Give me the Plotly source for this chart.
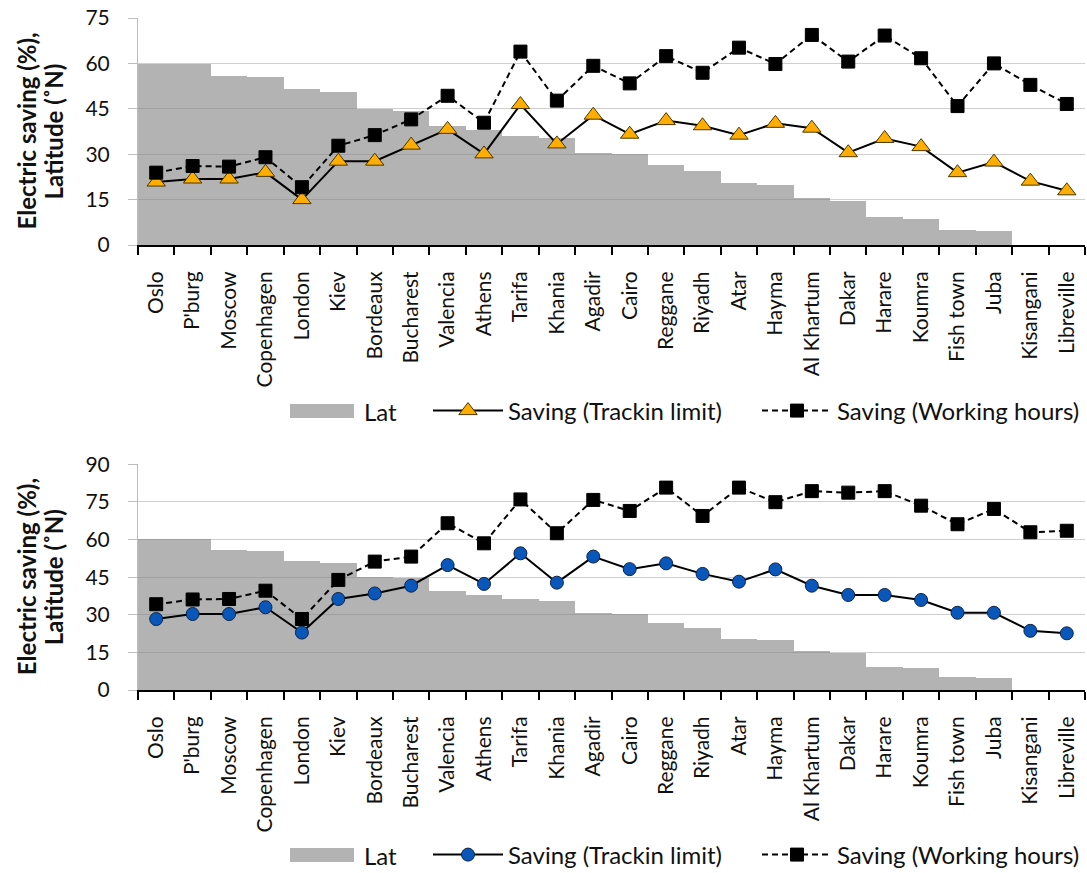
import plotly.graph_objects as go

# Cities ordered from north to south
cities = ["Oslo", "P'burg", "Moscow", "Copenhagen", "London", "Kiev", "Bordeaux",
          "Bucharest", "Valencia", "Athens", "Tarifa", "Khania", "Agadir", "Cairo",
          "Reggane", "Riyadh", "Atar", "Hayma", "Al Khartum", "Dakar", "Harare",
          "Koumra", "Fish town", "Juba", "Kisangani", "Libreville"]

# Latitude (deg N), shown as the grey stepped area in both panels
latitude = [59.9, 59.9, 55.7, 55.5, 51.5, 50.4, 44.8, 44.4, 39.4, 37.9, 36.0, 35.5, 30.4,
            30.0, 26.5, 24.5, 20.4, 19.9, 15.5, 14.7, 9.1, 8.6, 5.0, 4.7, 0.0, 0.0]

# Upper panel: electric saving (%)
track_top = [20.8, 21.8, 21.8, 24.0, 15.0, 27.7, 27.7, 33.0, 38.2, 30.1, 46.4, 33.4, 42.9,
             36.6, 41.1, 39.4, 36.3, 40.2, 38.6, 30.5, 35.2, 32.5, 23.9, 27.4, 21.1, 17.9]
work_top = [23.9, 26.1, 25.9, 29.0, 19.1, 32.8, 36.3, 41.5, 49.3, 40.4, 63.9, 47.7, 59.2,
            53.4, 62.4, 56.9, 65.2, 59.8, 69.4, 60.6, 69.2, 61.7, 45.9, 60.0, 52.9, 46.6]

# Lower panel: electric saving (%)
track_bottom = [28.3, 30.3, 30.3, 33.0, 22.9, 36.3, 38.5, 41.6, 49.8, 42.3, 54.5, 42.8, 53.2,
                48.2, 50.5, 46.3, 43.2, 48.1, 41.6, 37.9, 37.9, 35.9, 30.8, 30.8, 23.6, 22.6]
work_bottom = [34.2, 36.1, 36.3, 39.6, 28.3, 43.9, 51.2, 53.2, 66.5, 58.5, 76.0, 62.5, 75.8,
               71.4, 80.7, 69.4, 80.7, 74.9, 79.3, 78.7, 79.3, 73.5, 66.1, 72.2, 62.9, 63.5]

y_max_top = 75
y_max_bottom = 90
y_step = 15

W, H = 1087, 873
FONT = "Lato"
TEXT = "#111111"


def fx(p):
    return p / W


def fy(p):
    return 1 - p / H


panels = [
    dict(xa="x", ya="y", track=track_top, work=work_top, ymax=y_max_top,
         symbol="triangle-up", fill="#FFAE00", edge="#4a3800", size=16,
         legends=("legend", "legend2"), top=18, bottom=245, leg_y=411),
    dict(xa="x2", ya="y2", track=track_bottom, work=work_bottom, ymax=y_max_bottom,
         symbol="circle", fill="#0A57BC", edge="#0d2447", size=13,
         legends=("legend3", "legend4"), top=464.3, bottom=690, leg_y=855),
]

fig = go.Figure()
shapes = []
annotations = []

for i, p in enumerate(panels):
    fig.add_trace(go.Bar(
        x=cities, y=latitude, name="Lat", width=1,
        marker=dict(color="rgba(128,128,128,0.6)", line=dict(width=0)),
        xaxis=p["xa"], yaxis=p["ya"], showlegend=False, hoverinfo="x+y"))
    fig.add_trace(go.Scatter(
        x=cities, y=p["track"], name="Saving (Trackin limit)", mode="lines+markers",
        line=dict(color="black", width=2),
        marker=dict(symbol=p["symbol"], size=p["size"], color=p["fill"],
                    line=dict(color=p["edge"], width=1)),
        xaxis=p["xa"], yaxis=p["ya"], legend=p["legends"][0]))
    fig.add_trace(go.Scatter(
        x=cities, y=p["work"], name="Saving (Working hours)", mode="lines+markers",
        line=dict(color="black", width=2, dash="6px,4px"),
        marker=dict(symbol="square", size=13, color="black",
                    line=dict(color="black", width=1)),
        xaxis=p["xa"], yaxis=p["ya"], legend=p["legends"][1]))

    # legend key for the latitude area
    ly = p["leg_y"]
    shapes.append(dict(type="rect", xref="paper", yref="paper",
                       x0=fx(290), x1=fx(354), y0=fy(ly + 7), y1=fy(ly - 7),
                       fillcolor="#b3b3b3", line=dict(width=0)))
    annotations.append(dict(text="Lat", xref="paper", yref="paper", x=fx(363),
                            y=fy(ly), xanchor="left", yanchor="middle", showarrow=False,
                            borderpad=0, font=dict(family=FONT, size=24, color=TEXT)))
    # y-axis title, two lines
    mid = fy((p["top"] + p["bottom"]) / 2)
    for txt, xc in (("Electric saving (%),", 26), ("Latitude (˚N)", 53)):
        annotations.append(dict(text="<b>%s</b>" % txt, xref="paper", yref="paper",
                                x=fx(xc), y=mid, textangle=-90, xanchor="center",
                                yanchor="middle", showarrow=False,
                                font=dict(family=FONT, size=24, color=TEXT)))

xdom = [fx(138), fx(1085)]
xaxis_common = dict(domain=xdom, type="category", range=[-0.5, len(cities) - 0.5],
                    showline=True, linecolor="black", linewidth=2, ticks="outside",
                    tickson="boundaries", ticklen=8, tickwidth=2, tickcolor="black",
                    tickangle=-90, tickfont=dict(family=FONT, size=21, color=TEXT),
                    showgrid=False, zeroline=False, ticklabelstandoff=16,
                    automargin=False)


def yaxis_common(ymax, top, bottom, anchor):
    return dict(domain=[fy(bottom), fy(top)], range=[0, ymax], dtick=y_step, tick0=0,
                showgrid=True, gridcolor="#cfcfcf", gridwidth=1, showline=True,
                linecolor="#bdbdbd", linewidth=1, ticks="outside", ticklen=9,
                tickcolor="#bdbdbd", tickwidth=1, zeroline=False, anchor=anchor,
                tickfont=dict(family=FONT, size=21, color=TEXT), ticklabelstandoff=14,
                automargin=False)


def legend_at(x_px, y_px):
    return dict(x=fx(x_px), y=fy(y_px), xanchor="left", yanchor="middle",
                orientation="h", bgcolor="rgba(0,0,0,0)", borderwidth=0,
                font=dict(family=FONT, size=24, color=TEXT), itemwidth=70)


fig.update_layout(
    width=W, height=H, margin=dict(l=0, r=0, t=0, b=0, autoexpand=False),
    paper_bgcolor="white", plot_bgcolor="white", bargap=0,
    font=dict(family=FONT, color=TEXT),
    xaxis=dict(xaxis_common, anchor="y"),
    xaxis2=dict(xaxis_common, anchor="y2"),
    yaxis=yaxis_common(y_max_top, 18, 245, "x"),
    yaxis2=yaxis_common(y_max_bottom, 464.3, 690, "x2"),
    legend=legend_at(428, 411), legend2=legend_at(757, 411),
    legend3=legend_at(428, 855), legend4=legend_at(757, 855),
    shapes=shapes, annotations=annotations,
)

fig.write_html("out.html")
